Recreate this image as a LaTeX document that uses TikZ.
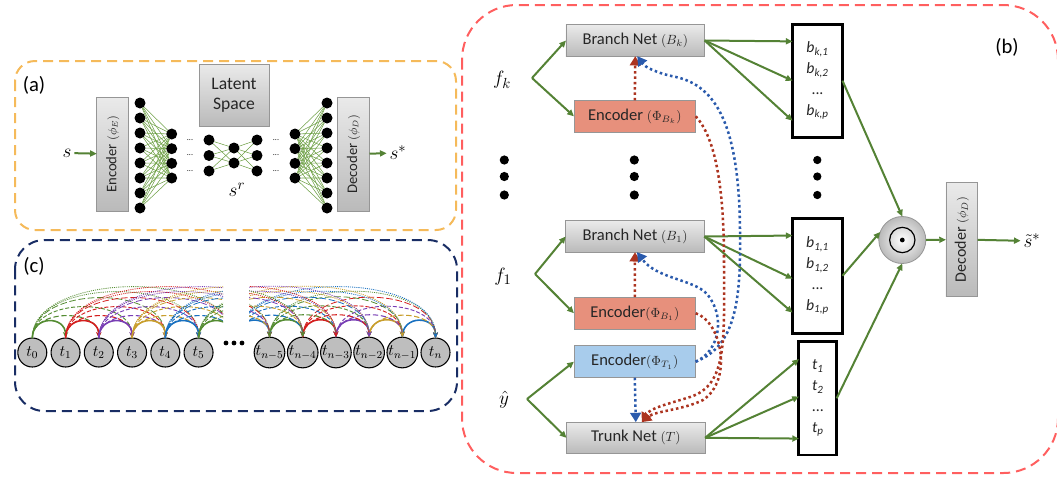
\documentclass[tikz,border=0pt]{standalone}
\usepackage{amsmath}
\usepackage{fontspec}
\setmainfont{Carlito}
\usepackage{tikz}
\usetikzlibrary{arrows.meta}

\definecolor{arrowgreen}{RGB}{84,130,53}
\definecolor{wiregreen}{RGB}{110,160,70}
\definecolor{frameorange}{RGB}{245,186,90}
\definecolor{framenavy}{RGB}{25,45,100}
\definecolor{framered}{RGB}{255,95,95}
\definecolor{boxgray}{RGB}{150,150,150}
\definecolor{shadetop}{RGB}{234,234,234}
\definecolor{shadebot}{RGB}{186,186,186}
\definecolor{encred}{RGB}{231,144,124}
\definecolor{encblue}{RGB}{168,204,236}
\definecolor{dotred}{RGB}{172,52,32}
\definecolor{dotblue}{RGB}{42,90,172}
\definecolor{nodegray}{RGB}{190,190,190}
\definecolor{tc0}{RGB}{84,140,50}
\definecolor{tc1}{RGB}{212,30,30}
\definecolor{tc2}{RGB}{120,62,180}
\definecolor{tc3}{RGB}{200,158,44}
\definecolor{tc4}{RGB}{24,112,192}

\begin{document}
\begin{tikzpicture}[x=0.75pt,y=0.75pt,yscale=-1,xscale=1,
  panel/.style={line width=1.5pt, dash pattern=on 7.5pt off 4.5pt},
  hbox/.style={draw=boxgray, line width=0.6pt, top color=shadetop, bottom color=shadebot, inner sep=0pt, outer sep=0pt, text=black!85},
  vbox/.style={hbox, rotate=90, minimum width=85.5pt, minimum height=24pt, font=\fontsize{11}{12}\selectfont},
  netbox/.style={hbox, minimum width=104pt, minimum height=23.5pt, font=\fontsize{12.4}{15}\selectfont},
  encbox/.style={draw=boxgray, line width=0.6pt, inner sep=0pt, outer sep=0pt, minimum width=91.3pt, minimum height=24pt, text=black!85, font=\fontsize{12.4}{15}\selectfont},
  outbox/.style={draw=black, line width=2.2pt, fill=white, inner sep=0pt, outer sep=0pt, minimum width=37.5pt, minimum height=85pt, align=center, text=black!85, font=\fontsize{11.8}{15.6}\selectfont\itshape},
  neuron/.style={circle, fill=black, minimum size=8.25pt, inner sep=0pt, outer sep=0pt},
  gapdots/.style={inner sep=0pt, font=\fontsize{6}{7}\selectfont},
  wire/.style={draw=wiregreen, line width=0.4pt},
  garrow/.style={draw=arrowgreen, line width=1.5pt, -{Triangle[length=5pt,width=4.5pt]}},
  reddot/.style={draw=dotred, line width=1.9pt, dash pattern=on 1.9pt off 2.1pt, -{Triangle[length=7pt,width=8pt]}},
  bluedot/.style={draw=dotblue, line width=1.9pt, dash pattern=on 1.9pt off 2.1pt, -{Triangle[length=7pt,width=8pt]}},
  mathlbl/.style={inner sep=2pt, font=\fontsize{15}{17}\selectfont},
  panellbl/.style={inner sep=0pt, font=\fontsize{15.5}{18}\selectfont},
  tnode/.style={circle, draw=black, line width=0.8pt, fill=nodegray, minimum size=21.75pt, inner sep=0pt, outer sep=0pt, font=\fontsize{11.5}{12}\selectfont},
  ghost/.style={circle, minimum size=21.75pt, inner sep=0pt, outer sep=0pt},
  arcone/.style={line width=1.2pt, -{Stealth[length=4.5pt,width=4pt]}},
  arctwo/.style={line width=0.8pt, dash pattern=on 4pt off 2pt, -{Stealth[length=4pt,width=3.5pt]}},
  arcthree/.style={line width=0.7pt, dash pattern=on 3pt off 1.5pt, -{Stealth[length=4pt,width=3.5pt]}},
  arcfour/.style={line width=0.6pt, dash pattern=on 5pt off 2pt, -{Stealth[length=4pt,width=3.5pt]}},
  arcfive/.style={line width=0.6pt, dash pattern=on 0.8pt off 0.8pt, -{Stealth[length=4pt,width=3.5pt]}}
]
\useasboundingbox (0,0) rectangle (1057,480);

%Rounded Rect: three panels
\draw[panel, draw=frameorange, rounded corners=15pt] (15,61) rectangle (456,230);
\draw[panel, draw=framenavy, rounded corners=22pt] (15,240) rectangle (457,411);
\draw[panel, draw=framered, rounded corners=41pt] (462,5) rectangle (1058,473);

% Text Node
\node[panellbl] (laba) at (34,85) {(a)};
\node[panellbl] (labc) at (34,266) {(c)};
\node[panellbl] (labb) at (1007,47) {(b)};

%%%%%%%% (a) autoencoder
\node[vbox] (enca) at (112.8,154) {Encoder {\fontsize{9}{11}\selectfont$(\phi_E)$}};
\node[vbox] (deca) at (353.5,154) {Decoder {\fontsize{9}{11}\selectfont$(\phi_D)$}};
\node[hbox, minimum width=52.5pt, minimum height=46.5pt, align=center, font=\fontsize{13.2}{15}\selectfont] (latent) at (234,95) {Latent\\Space};

% Text Node
\node[mathlbl] (sa) at (67,153) {$s$};
\node[mathlbl] (sstar) at (398,153) {$s^{*}$};
\node[mathlbl] (sr) at (237,190) {$s^{r}$};

%Shape: neurons
\foreach \i in {0,...,7} {
  \node[neuron] (enA\i) at (140,{103+15*\i}) {};
  \node[neuron] (deA\i) at (327,{103+15*\i}) {};
}
\foreach \i in {0,...,3} {
  \node[neuron] (enB\i) at (171.7,{134+14.67*\i}) {};
  \node[neuron] (deB\i) at (295,{134+14.67*\i}) {};
}
\foreach \i in {0,1,2} {
  \node[neuron] (mdA\i) at (209,{140+15.5*\i}) {};
  \node[neuron] (mdC\i) at (257,{140+15.5*\i}) {};
  \node[gapdots] (gapl\i) at (190,{140+15.5*\i}) {...};
  \node[gapdots] (gapr\i) at (276,{140+15.5*\i}) {...};
}
\foreach \i in {0,1}
  \node[neuron] (mdB\i) at (234,{148+15*\i}) {};

%Straight Lines: weights
\foreach \i in {0,...,7}
  \foreach \j in {0,...,3} {
    \draw[wire] (enA\i) -- (enB\j);
    \draw[wire] (deB\j) -- (deA\i);
  }
\foreach \i in {0,1,2}
  \foreach \j in {0,1} {
    \draw[wire] (mdA\i) -- (mdB\j);
    \draw[wire] (mdB\j) -- (mdC\i);
  }

\draw[garrow] (sa) -- (enca);
\draw[garrow] (deca) -- (sstar);

%%%%%%%% (c) time steps
\foreach \i/\lab in {0/t_{0},1/t_{1},2/t_{2},3/t_{3},4/t_{4},5/t_{5}}
  \node[tnode] (l\i) at ({32.3+33.25*\i},352.5) {$\lab$};
\foreach \i in {6,...,11}
  \node[ghost] (l\i) at ({32.3+33.25*\i},352.5) {};
\foreach \m/\lab in {0/t_{n},1/t_{n-1},2/t_{n-2},3/t_{n-3},4/t_{n-4},5/t_{n-5}}
  \node[tnode] (r\m) at ({435.5-33.2*\m},352.5) {$\lab$};
\foreach \m in {6,...,10}
  \node[ghost] (r\m) at ({435.5-33.2*\m},352.5) {};

%Curve Lines: left group
\begin{scope}
  \clip (0,250) rectangle (223,345);
  \foreach \i in {0,...,5} {
    \pgfmathtruncatemacro{\c}{mod(\i,5)}
    \foreach \k/\h/\st in {6/51/arcfive,5/46/arcfive,4/40/arcfour,3/31/arcthree,2/22/arctwo,1/17/arcone} {
      \pgfmathtruncatemacro{\j}{\i+\k}
      \draw[\st, color=tc\c] (l\i.north) .. controls +(0,-1.333*\h) and +(0,-1.333*\h) .. (l\j.north);
    }
  }
\end{scope}

%Curve Lines: right group
\begin{scope}
  \clip (249,250) rectangle (460,345);
  \foreach \m in {1,...,10} {
    \pgfmathtruncatemacro{\c}{mod(15-\m,5)}
    \foreach \k/\h/\st in {6/51/arcfive,5/46/arcfive,4/40/arcfour,3/31/arcthree,2/22/arctwo,1/17/arcone} {
      \pgfmathtruncatemacro{\j}{\m-\k}
      \ifnum\j<0\relax\else
        \draw[\st, color=tc\c] (r\m.north) .. controls +(0,-1.333*\h) and +(0,-1.333*\h) .. (r\j.north);
      \fi
    }
  }
\end{scope}

%Shape: dots between the groups
\foreach \d in {0,1,2}
  \fill ({226+8*\d},343) circle (1.8pt);

%%%%%%%% (b) branch / trunk network
\node[netbox] (bk) at (635.3,40.5) {Branch Net {\fontsize{10}{12}\selectfont$(B_k)$}};
\node[encbox, fill=encred] (encbk) at (634.8,116.3) {Encoder {\fontsize{10}{12}\selectfont$(\Phi_{B_k})$}};
\node[netbox] (bone) at (635,236.5) {Branch Net {\fontsize{10}{12}\selectfont$(B_1)$}};
\node[encbox, fill=encred] (encbone) at (634.8,313.2) {Encoder{\fontsize{10}{12}\selectfont$(\Phi_{B_1})$}};
\node[encbox, fill=encblue] (enctone) at (634.8,361.7) {Encoder{\fontsize{10}{12}\selectfont$(\Phi_{T_1})$}};
\node[netbox] (trunk) at (635.8,437.8) {Trunk Net {\fontsize{10}{12}\selectfont$(T)$}};

\node[outbox] (bkout) at (817.5,80.7) {b\textsubscript{k,1}\\b\textsubscript{k,2}\\\upshape...\\b\textsubscript{k,p}};
\node[outbox, minimum height=86.3pt] (boneout) at (817.5,275.8) {b\textsubscript{1,1}\\b\textsubscript{1,2}\\\upshape...\\b\textsubscript{1,p}};
\node[outbox, minimum width=28.3pt] (tout) at (817.8,398.3) {t\textsubscript{1}\\t\textsubscript{2}\\\upshape...\\t\textsubscript{p}};

\node[circle, draw=boxgray, line width=0.6pt, inner color=white, outer color=shadebot, minimum size=35.25pt, inner sep=0pt, outer sep=0pt] (odot) at (902.3,240) {};
\draw[line width=0.9pt] (odot.center) circle (9.5pt);
\fill (odot.center) circle (1.8pt);

\node[vbox, minimum width=85.8pt, minimum height=23.8pt, font=\fontsize{12}{14}\selectfont] (decb) at (961.8,239.5) {Decoder {\fontsize{9.5}{11}\selectfont$(\phi_D)$}};

% Text Node
\node[mathlbl] (fk) at (502,80) {$f_k$};
\node[mathlbl] (fone) at (503,277) {$f_1$};
\node[mathlbl] (yhat) at (504,400) {$\hat{y}$};
\node[mathlbl] (stil) at (1032,241) {$\tilde{s}^{*}$};

%Shape: vertical dots
\foreach \yy in {160,176.5,195} {
  \fill (504.3,\yy) circle (3.45pt);
  \fill (634.3,\yy) circle (3.45pt);
  \fill (817.3,\yy) circle (3.1pt);
}

%Straight Lines: inputs
\coordinate (forkk) at (532,78);
\coordinate (forkone) at (535,274);
\coordinate (forky) at (527,399);
\draw[garrow] (forkk) -- (bk.west);
\draw[garrow] (forkk) -- (encbk.west);
\draw[garrow] (forkone) -- (bone.west);
\draw[garrow] (forkone) -- (encbone.west);
\draw[garrow] (forky) -- (enctone.west);
\draw[garrow] (forky) -- (trunk.west);

%Straight Lines: outputs
\draw[garrow] (bk.east) -- ([yshift=30pt]bkout.west);
\draw[garrow] (bk.east) -- (bkout.west);
\draw[garrow] (bk.east) -- ([yshift=-29.5pt]bkout.west);
\draw[garrow] (bone.east) -- ([yshift=27.6pt]boneout.west);
\draw[garrow] (bone.east) -- ([yshift=2.1pt]boneout.west);
\draw[garrow] (bone.east) -- ([yshift=-30.2pt]boneout.west);
\draw[garrow] (trunk.east) -- ([yshift=30.2pt]tout.west);
\draw[garrow] (trunk.east) -- ([yshift=-1.3pt]tout.west);
\draw[garrow] (trunk.east) -- ([yshift=-29.4pt]tout.west);

\draw[garrow] (bkout.east) -- (odot.north);
\draw[garrow] (boneout.east) -- (odot.160);
\draw[garrow] (tout.east) -- (odot.south);
\draw[garrow] (odot.east) -- (decb);
\draw[garrow] (decb) -- (stil);

%Curve Lines: encoder links
\draw[reddot] (encbk.north) -- (bk.south);
\draw[reddot] (encbone.north) -- (bone.south);
\draw[bluedot] (enctone.south) -- (trunk.north);
\draw[bluedot] (enctone.east) .. controls (736,346) and (741,300) .. (740,230) .. controls (739,125) and (716,86) .. (676,77) .. controls (656,73) and (645,67) .. ([xshift=1.5pt]bk.south);
\draw[bluedot] (enctone.east) .. controls (718,352) and (727,318) .. (707,294) .. controls (693,279) and (657,279) .. ([xshift=1.5pt]bone.south);
\draw[reddot] (encbk.east) .. controls (716,138) and (724,190) .. (724,260) .. controls (724,340) and (728,385) .. (690,397) .. controls (668,404) and (650,408) .. ([xshift=4.5pt]trunk.north);
\draw[reddot] (encbone.east) .. controls (722,322) and (733,380) .. (703,400) .. controls (683,410) and (655,411) .. ([xshift=4.5pt]trunk.north);

\end{tikzpicture}
\end{document}
